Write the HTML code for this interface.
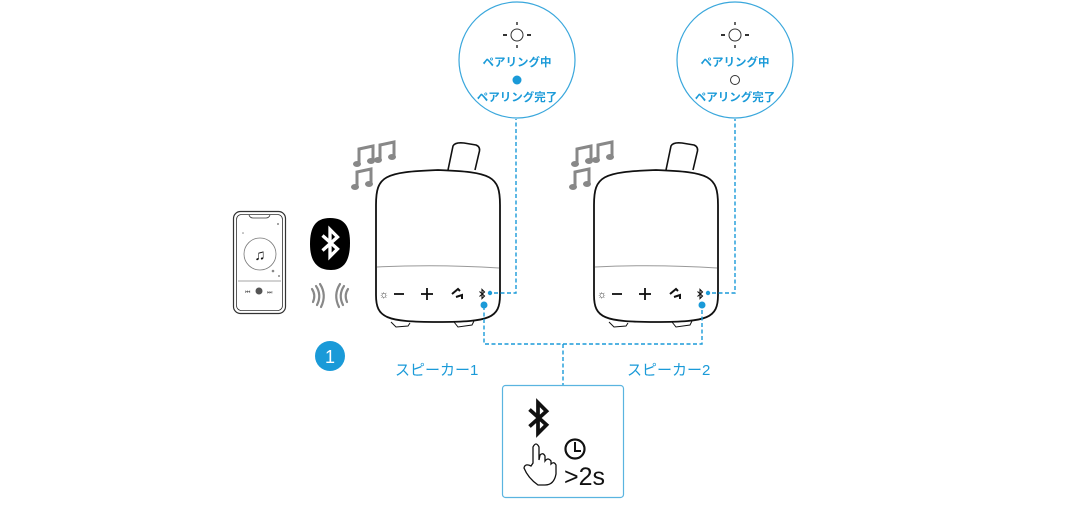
<!DOCTYPE html>
<html><head><meta charset="utf-8"><style>
html,body{margin:0;padding:0;background:#fff;}
svg{display:block;}
text{font-family:"Liberation Sans","Noto Sans CJK JP",sans-serif;}
</style></head><body>
<svg width="1090" height="507" viewBox="0 0 1090 507" xmlns="http://www.w3.org/2000/svg">
<defs>
<g id="bt"><path d="M-5,-5 L5,4 L0,9 L0,-9 L5,-4 L-5,5" fill="none" stroke-width="2.2" stroke-linejoin="miter"/></g>
<g id="spk">
 <path d="M72,0 L77,-24 Q79,-28 88,-27 L100,-25 Q105,-23 103,-17 L99,0" fill="#fff" stroke="#111" stroke-width="1.6"/>
 <path d="M0,35 C0,6 8,2 62,0 C116,2 124,6 124,35 L124,125 C124,148 114,152 62,152 C10,152 0,148 0,125 Z" fill="#fff" stroke="#111" stroke-width="1.8"/>
 <path d="M15,152 L20,157 L32,156 L34,153" fill="none" stroke="#111" stroke-width="1"/>
 <path d="M78,152 L82,157 L96,155 L98,151" fill="none" stroke="#111" stroke-width="1"/>
 <path d="M1,97 Q62,94 123,98" fill="none" stroke="#999" stroke-width="1"/>
 <text x="3" y="128" font-size="11" fill="#333">☼</text>
 <line x1="18" y1="124" x2="28" y2="124" stroke="#111" stroke-width="1.8"/>
 <line x1="45" y1="124" x2="57" y2="124" stroke="#111" stroke-width="1.8"/>
 <line x1="51" y1="118" x2="51" y2="130" stroke="#111" stroke-width="1.8"/>
 <path d="M76,124 L82,119 L84,121 M80,127 L86,125 L86,129" fill="none" stroke="#111" stroke-width="2"/>
 <g stroke="#111" transform="translate(106,124) scale(0.5)"><use href="#bt"/></g>
</g>
<g id="notes" fill="#888">
 <path d="M4,20 L4,6 L18,3 L18,17" fill="none" stroke="#888" stroke-width="3"/>
 <ellipse cx="2" cy="21" rx="4" ry="3"/><ellipse cx="16" cy="18" rx="4" ry="3"/>
</g>
</defs>

<circle cx="517" cy="60" r="58" fill="#fff" stroke="#3aa7dc" stroke-width="1.2"/>
<circle cx="735" cy="60" r="58" fill="#fff" stroke="#3aa7dc" stroke-width="1.2"/>
<g id="ind1">
<circle cx="517" cy="35" r="6" fill="none" stroke="#333" stroke-width="1"/>
<line x1="503" y1="35" x2="507" y2="35" stroke="#333" stroke-width="2"/><line x1="527" y1="35" x2="531" y2="35" stroke="#333" stroke-width="2"/>
<line x1="517" y1="22" x2="517" y2="25" stroke="#333" stroke-width="1.5"/><line x1="517" y1="45" x2="517" y2="48" stroke="#333" stroke-width="1.5"/>
</g>
<use href="#ind1" x="218"/>
<g font-size="11.5" fill="#1a9ad8" text-anchor="middle" font-weight="bold">
<text x="517" y="66">ペアリング中</text>
<text x="517" y="101">ペアリング完了</text>
<text x="735" y="66">ペアリング中</text>
<text x="735" y="101">ペアリング完了</text>
</g>
<circle cx="517" cy="80" r="4.5" fill="#1a9ad8"/>
<circle cx="735" cy="80" r="4.5" fill="none" stroke="#333" stroke-width="1"/>

<use href="#notes" x="355" y="143"/><use href="#notes" x="376" y="139"/><use href="#notes" x="353" y="166"/>
<use href="#notes" x="573" y="143"/><use href="#notes" x="594" y="139"/><use href="#notes" x="571" y="166"/>

<use href="#spk" x="376" y="170"/>
<use href="#spk" x="594" y="170"/>

<g stroke="#1a9ad8" stroke-width="1.4" stroke-dasharray="4,2.5" fill="none">
<path d="M494,293 L516,293 L516,119"/>
<path d="M712,293 L735,293 L735,119"/>
<path d="M484,306 L484,344 L702,344 L702,306"/>
<path d="M563,344 L563,385"/>
</g>
<circle cx="490" cy="293" r="2.2" fill="#1a9ad8"/><circle cx="708" cy="293" r="2.2" fill="#1a9ad8"/>
<circle cx="484" cy="305" r="3.5" fill="#1a9ad8"/><circle cx="702" cy="305" r="3.5" fill="#1a9ad8"/>

<text x="395" y="375" font-size="15" fill="#1a9ad8">スピーカー1</text>
<text x="627" y="375" font-size="15" fill="#1a9ad8">スピーカー2</text>

<rect x="502.5" y="385.5" width="121" height="112" rx="3" fill="#fff" stroke="#5ab4e0" stroke-width="1.2"/>
<g stroke="#111" transform="translate(538,418) scale(1.7)"><use href="#bt" style="stroke-width:2"/></g>
<path d="M533,463 L533,447 Q536,441 539,447 L539,460 L540,455 Q543,452 545,456 L545,461 Q548,457 551,461 L551,464 Q554,461 556,465 L556,474 Q554,485 545,485 L538,485 Q528,478 524,468 Q525,463 531,466 Z" fill="#fff" stroke="#111" stroke-width="1.3"/>
<circle cx="575" cy="449" r="9.5" fill="none" stroke="#111" stroke-width="2.2"/>
<path d="M575,442 L575,451 L581,451" fill="none" stroke="#111" stroke-width="2"/>
<text x="564" y="485" font-size="25" fill="#111">&gt;2s</text>

<rect x="233.5" y="211.5" width="52" height="102" rx="7" fill="#fff" stroke="#333" stroke-width="1.2"/>
<rect x="236.5" y="214.5" width="46" height="96" rx="5" fill="none" stroke="#333" stroke-width="0.8"/>
<path d="M249,215 Q250,218 253,218 L266,218 Q269,218 270,215" fill="none" stroke="#333" stroke-width="0.8"/>
<circle cx="260" cy="254" r="16" fill="none" stroke="#777" stroke-width="0.8"/>
<text x="260" y="260" font-size="15" fill="#111" text-anchor="middle" font-weight="bold">♫</text>
<line x1="238" y1="281" x2="281" y2="281" stroke="#888" stroke-width="0.8"/>
<circle cx="259" cy="291" r="3.5" fill="#555"/>
<text x="245" y="294" font-size="6" fill="#666">⏮</text><text x="267" y="294" font-size="6" fill="#666">⏭</text>
<circle cx="278" cy="224" r="1" fill="#888"/><circle cx="273" cy="271" r="1.3" fill="#888"/><circle cx="279" cy="276" r="1" fill="#888"/><circle cx="243" cy="233" r="0.8" fill="#888"/>

<path d="M330,218 C346,218 350,228 350,243 C350,259 345,270 331,270 C316,270 310,260 310,244 C310,228 315,218 330,218 Z" fill="#000"/>
<g stroke="#fff" transform="translate(330,243) scale(1.5)"><use href="#bt"/></g>
<g fill="none" stroke="#888" stroke-width="2.2" stroke-linecap="round">
<path d="M312,289 Q316,295 313,302"/><path d="M316,286 Q322,295 317,305"/><path d="M320,284 Q327,295 321,307"/>
<path d="M348,289 Q344,295 347,302"/><path d="M344,286 Q338,295 343,305"/><path d="M340,284 Q333,295 339,307"/>
</g>
<circle cx="330" cy="356" r="15" fill="#1a9ad8"/>
<text x="330" y="363" font-size="18" fill="#fff" text-anchor="middle">1</text>
</svg>
</body></html>
